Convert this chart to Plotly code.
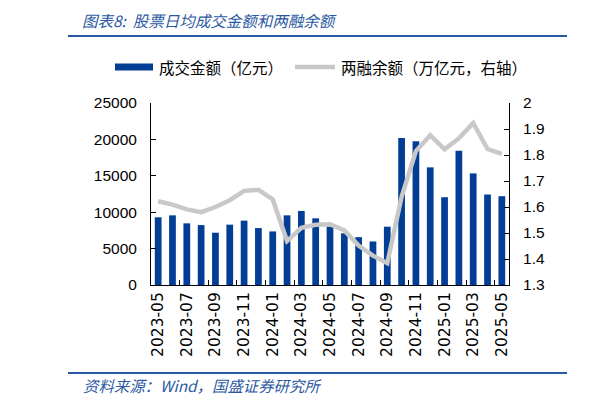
import plotly.graph_objects as go

months = ["2023-05","2023-06","2023-07","2023-08","2023-09","2023-10","2023-11","2023-12",
          "2024-01","2024-02","2024-03","2024-04","2024-05","2024-06","2024-07","2024-08",
          "2024-09","2024-10","2024-11","2024-12","2025-01","2025-02","2025-03","2025-04","2025-05"]
turnover = [9300, 9570, 8470, 8230, 7180, 8290, 8840, 7820, 7360, 9570, 10170, 9160, 8030,
            7100, 6570, 5980, 8010, 20200, 19750, 16160, 12060, 18450, 15330, 12430, 12200]
margin_bal = [1.622, 1.609, 1.591, 1.580, 1.600, 1.626, 1.662, 1.666, 1.629, 1.469, 1.520,
              1.532, 1.534, 1.510, 1.452, 1.413, 1.384, 1.639, 1.815, 1.876, 1.822, 1.864,
              1.923, 1.823, 1.804]
left_ticks = [0, 5000, 10000, 15000, 20000, 25000]
right_ticks = [1.3, 1.4, 1.5, 1.6, 1.7, 1.8, 1.9, 2.0]
right_text = ["1.3", "1.4", "1.5", "1.6", "1.7", "1.8", "1.9", "2"]

title_text = "图表8:  股票日均成交金额和两融余额"
source_text = "资料来源：Wind，国盛证券研究所"
legend_bar = "成交金额（亿元）"
legend_line = "两融余额（万亿元，右轴）"

BLUE = "#023e96"
GREY = "#c8c8c8"
HEAD = "#2b58a3"
CJK = "Noto Sans CJK SC"

# page places the figure at (8, 8); shrink the figure so reference pixel coords map 1:1
W, H = 589, 397
L, T, R, B = 143, 95, 88, 120
PW, PH = W - L - R, H - T - B


def px(xr):
    return (xr - 8 - L) / PW


def py(yr):
    return (H - (yr - 8) - B) / PH


fig = go.Figure()
fig.add_trace(go.Bar(x=months, y=turnover, marker=dict(color=BLUE, line=dict(width=0)),
                     name=legend_bar, showlegend=False))
fig.add_trace(go.Scatter(x=months, y=margin_bal, yaxis="y2", mode="lines",
                         line=dict(color=GREY, width=4.5), name=legend_line, showlegend=False))

fig.update_layout(
    width=W, height=H,
    margin=dict(l=L, r=R, t=T, b=B),
    paper_bgcolor="white", plot_bgcolor="white",
    bargap=0.53,
    font=dict(family="Liberation Sans", color="#000"),
    xaxis=dict(type="category", tickmode="linear", tick0=0, dtick=2,
               tickson="boundaries", ticks="inside", ticklen=5, tickcolor="#000",
               showline=True, linecolor="#000", linewidth=1, showgrid=False,
               tickangle=-90, tickfont=dict(family="DejaVu Sans", size=15.5, color="#000"),
               range=[-0.5, 24.5]),
    yaxis=dict(range=[0, 25000], tickvals=left_ticks, tickformat="d", ticks="inside", ticklen=5,
               tickcolor="#000", showline=True, linecolor="#000", linewidth=1,
               showgrid=False, zeroline=False, ticklabelstandoff=10,
               tickfont=dict(family="Liberation Sans", size=15.5, color="#000")),
    yaxis2=dict(overlaying="y", side="right", range=[1.3, 2.0], tickvals=right_ticks,
                ticktext=right_text, ticks="inside", ticklen=5, tickcolor="#000",
                showline=True, linecolor="#000", linewidth=1, showgrid=False,
                zeroline=False, ticklabelstandoff=10,
                tickfont=dict(family="Liberation Sans", size=15.5, color="#000")),
)

shapes = [
    dict(type="line", x0=px(68), x1=px(567), y0=py(36), y1=py(36), line=dict(color=HEAD, width=2)),
    dict(type="line", x0=px(590), x1=px(600), y0=py(36), y1=py(36), line=dict(color=HEAD, width=2)),
    dict(type="line", x0=px(68), x1=px(567), y0=py(373), y1=py(373), line=dict(color=HEAD, width=2)),
    dict(type="line", x0=px(590), x1=px(600), y0=py(373), y1=py(373), line=dict(color=HEAD, width=2)),
    dict(type="rect", x0=px(115), x1=px(153), y0=py(70.5), y1=py(63.5),
         fillcolor=BLUE, line=dict(width=0)),
    dict(type="line", x0=px(295), x1=px(335), y0=py(67), y1=py(67), line=dict(color=GREY, width=4.5)),
]
for s in shapes:
    s.update(xref="paper", yref="paper")
fig.update_layout(shapes=shapes)

ann = [
    dict(text="<i>" + title_text + "</i>", x=px(80), y=py(19.5),
         font=dict(family=CJK, size=15.5, color=HEAD)),
    dict(text="<i>" + source_text + "</i>", x=px(81), y=py(385),
         font=dict(family=CJK, size=15.4, color=HEAD)),
    dict(text=legend_bar, x=px(157), y=py(67), font=dict(family=CJK, size=15.5, color="#000")),
    dict(text=legend_line, x=px(339), y=py(67), font=dict(family=CJK, size=15.5, color="#000")),
]
for a in ann:
    a.update(xref="paper", yref="paper", showarrow=False, xanchor="left", yanchor="middle")
fig.update_layout(annotations=ann)

fig.write_html("out.html")
